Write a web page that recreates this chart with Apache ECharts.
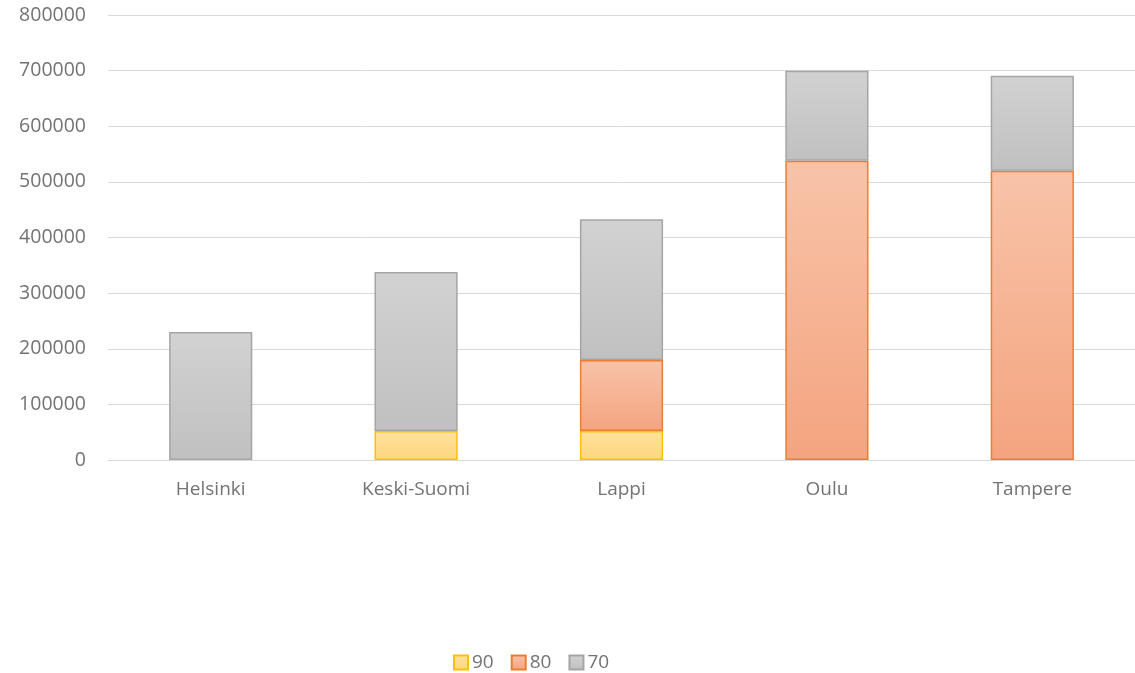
<!DOCTYPE html>
<html>
<head>
<meta charset="utf-8">
<script src="https://cdn.jsdelivr.net/npm/echarts@6/dist/echarts.min.js"></script>
<style>
  html, body { margin: 0; padding: 0; background: #fff; }
  #chart { width: 1135px; height: 673px; }
</style>
</head>
<body>
<div id="chart"></div>
<script>
// Regions on the category axis
const categories = ['Helsinki', 'Keski-Suomi', 'Lappi', 'Oulu', 'Tampere'];
// Stacked series values per region (null = no segment)
const values90 = [null, 52000, 52000, null, null];
const values80 = [null, null, 128000, 538000, 520000];
const values70 = [230000, 286000, 253000, 162000, 171000];
const seriesNames = ['90', '80', '70'];

const grad = (top, bottom) => new echarts.graphic.LinearGradient(0, 0, 0, 1, [
  { offset: 0, color: top }, { offset: 1, color: bottom }
]);

const styles = [
  { fill: grad('#FFE29C', '#FFD680'), border: '#FFC000' },
  { fill: grad('#F8C3A8', '#F4A47F'), border: '#ED7D31' },
  { fill: grad('#D2D2D2', '#C0C0C0'), border: '#A5A5A5' }
];

const chart = echarts.init(document.getElementById('chart'), null, { renderer: 'canvas' });

const seriesData = [values90, values80, values70];
const textColor = '#737373';

chart.setOption({
  animation: false,
  textStyle: { fontFamily: '"Open Sans", sans-serif' },
  grid: { left: 108, right: -2, top: 15, bottom: 213, containLabel: false },
  legend: {
    data: seriesNames,
    top: 648,
    left: 448,
    itemWidth: 14,
    itemHeight: 14,
    itemGap: 17,
    textStyle: { fontSize: 19, color: textColor, padding: [0, 0, 0, -1] },
    icon: 'rect'
  },
  xAxis: {
    type: 'category',
    data: categories,
    axisTick: { show: false },
    axisLine: { lineStyle: { color: '#D9D9D9', width: 1 } },
    axisLabel: { fontSize: 19, color: textColor, margin: 20 }
  },
  yAxis: {
    type: 'value',
    min: 0,
    max: 800000,
    interval: 100000,
    axisLine: { show: false },
    axisTick: { show: false },
    splitLine: { lineStyle: { color: '#D9D9D9', width: 1 } },
    axisLabel: { fontSize: 19.5, color: textColor, margin: 22, formatter: v => String(v) }
  },
  series: seriesNames.map((name, i) => ({
    name,
    type: 'bar',
    stack: 'total',
    barWidth: '40.5%',
    data: seriesData[i],
    itemStyle: {
      color: styles[i].fill,
      borderColor: styles[i].border,
      borderWidth: 1.5
    }
  }))
});
</script>
</body>
</html>
